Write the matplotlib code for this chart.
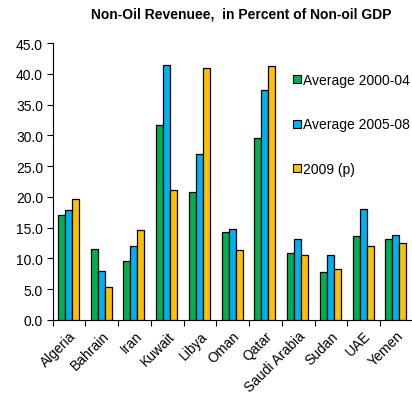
import matplotlib
matplotlib.use("Agg")
import matplotlib.pyplot as plt
import numpy as np
from matplotlib.lines import Line2D
from matplotlib.ticker import FormatStrFormatter

plt.rcParams["font.family"] = ["Liberation Sans", "DejaVu Sans"]

countries = ["Algeria", "Bahrain", "Iran", "Kuwait", "Libya", "Oman",
             "Qatar", "Saudi Arabia", "Sudan", "UAE", "Yemen"]
avg_2000_04 = [17.1, 11.6, 9.6, 31.7, 20.8, 14.3, 29.5, 10.9, 7.8, 13.6, 13.2]
avg_2005_08 = [17.8, 8.0, 12.1, 41.5, 26.9, 14.8, 37.4, 13.2, 10.5, 18.0, 13.8]
proj_2009 = [19.6, 5.4, 14.6, 21.2, 40.9, 11.4, 41.3, 10.5, 8.3, 12.0, 12.5]
series_labels = ["Average 2000-04", "Average 2005-08", "2009 (p)"]
colors = ["#00B050", "#00B0F0", "#FFC000"]

fig = plt.figure(figsize=(4.12, 4.02), dpi=100)
ax = fig.add_axes([0.128, 0.2015, 0.874, 0.689])

x = np.arange(len(countries))
width = 0.215
offsets = [-0.235, -0.02, 0.195]
for vals, off, col in zip([avg_2000_04, avg_2005_08, proj_2009], offsets, colors):
    ax.bar(x + off, vals, width, color=col, edgecolor="black", linewidth=0.9, zorder=3)

ax.set_xlim(-0.5, len(countries) - 0.5)
ax.set_ylim(0, 45)
ax.set_yticks(np.arange(0, 46, 5))
ax.yaxis.set_major_formatter(FormatStrFormatter("%.1f"))
ax.tick_params(axis="y", direction="out", length=4, width=0.8, labelsize=10, pad=3)

# group boundaries get the tick marks, names sit under the group centres
ax.set_xticks(np.arange(len(countries) + 1) - 0.5)
ax.set_xticklabels([])
ax.set_xticks(x, minor=True)
ax.set_xticklabels(countries, minor=True, rotation=45, ha="right",
                   rotation_mode="anchor", fontsize=10)
ax.tick_params(axis="x", which="major", direction="out", length=4, width=0.8)
ax.tick_params(axis="x", which="minor", length=0, pad=6)

for side in ["top", "right"]:
    ax.spines[side].set_visible(False)
for side in ["left", "bottom"]:
    ax.spines[side].set_linewidth(0.8)

fig.text(0.585, 0.965, "Non-Oil Revenuee,  in Percent of Non-oil GDP",
         ha="center", va="center", fontsize=10, fontweight="bold")

handles = [Line2D([], [], marker="s", linestyle="none", markersize=5.5,
                  markerfacecolor=c, markeredgecolor="black", markeredgewidth=0.8)
           for c in colors]
fig.legend(handles, series_labels, loc="upper left", bbox_to_anchor=(0.697, 0.83),
           frameon=False, fontsize=10, handlelength=0.6, handletextpad=0.15,
           labelspacing=2.2, borderaxespad=0)

fig.savefig("out.png", dpi=100)
